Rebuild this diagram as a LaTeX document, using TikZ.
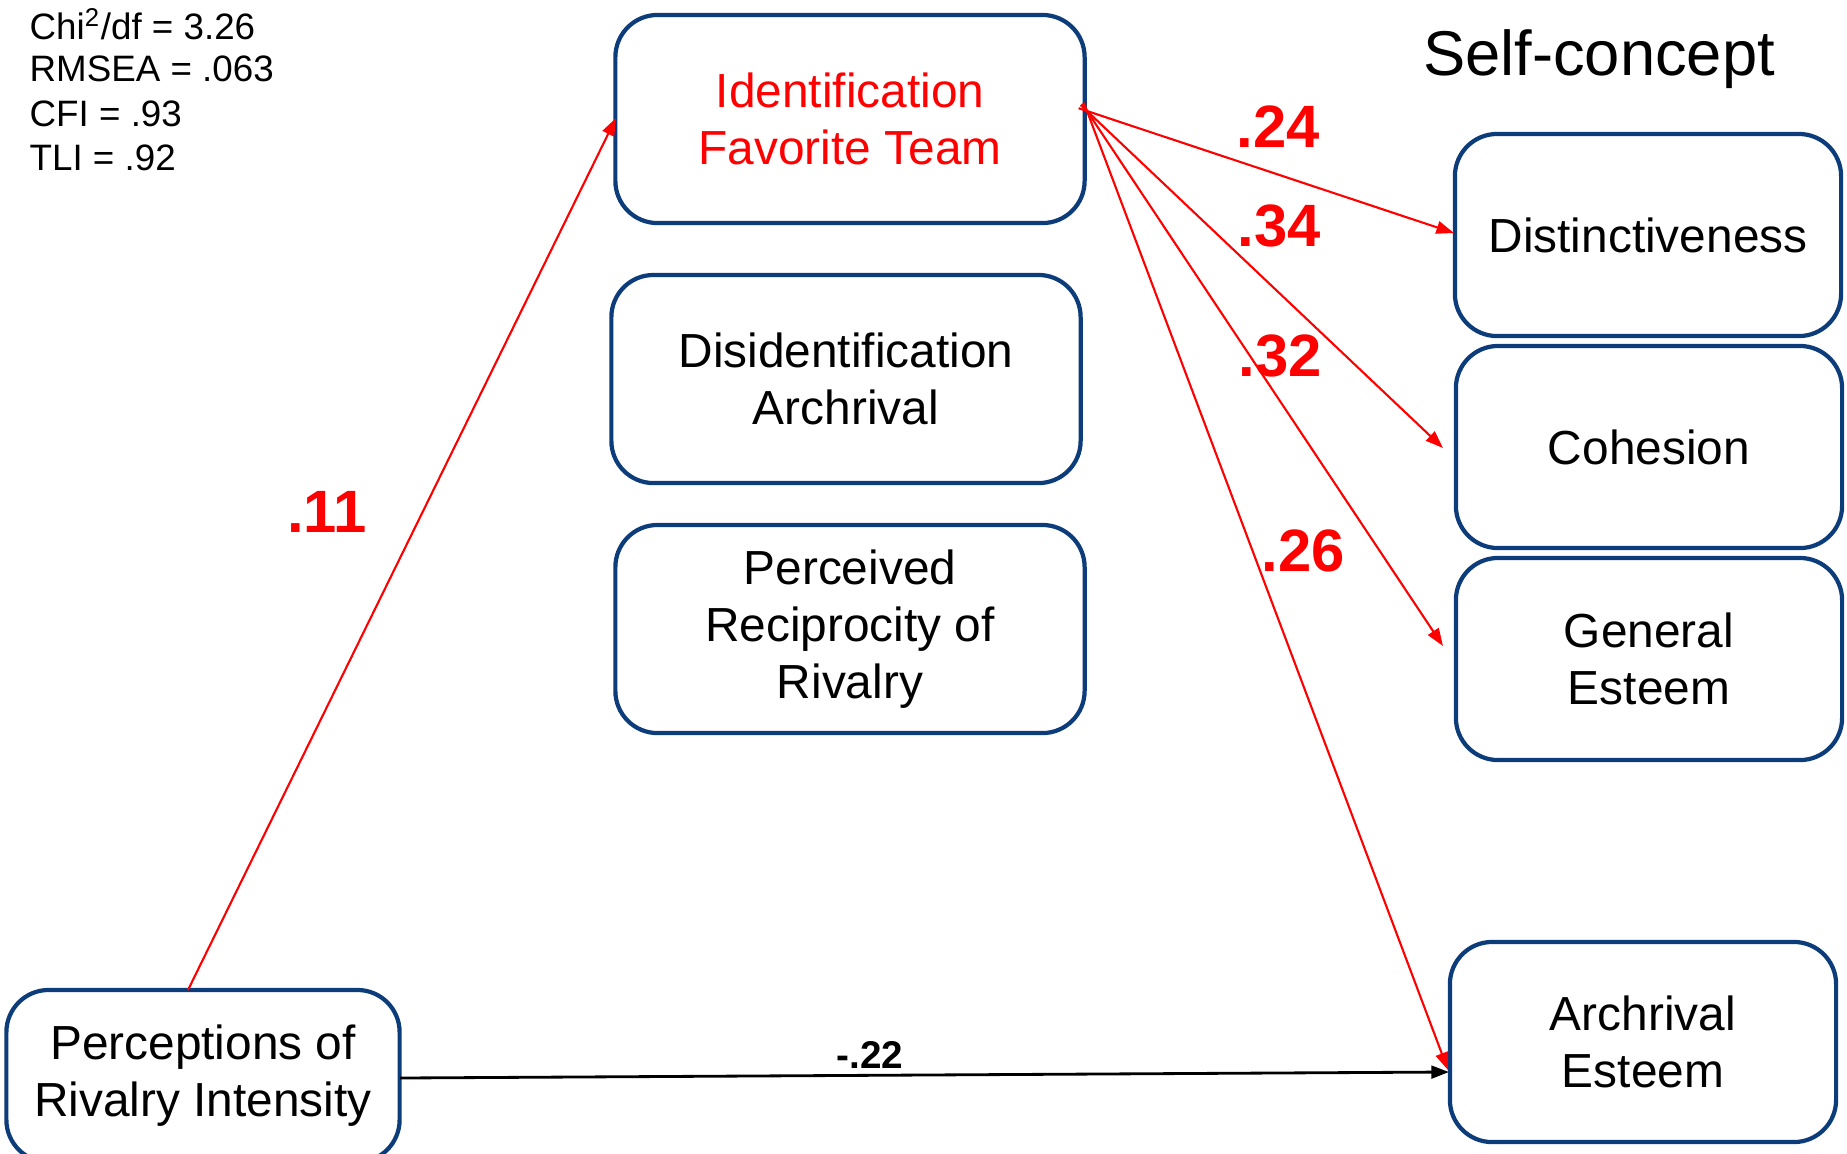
\documentclass[tikz,border=0pt]{standalone}
\usepackage{fontspec}
\setmainfont{Liberation Sans}
\usetikzlibrary{arrows.meta}
\definecolor{boxblue}{RGB}{12,60,122}
\definecolor{pathred}{RGB}{255,0,0}
\tikzset{
  var/.style={draw=boxblue, line width=1.2pt, rounded corners=12pt, fill=white,
    align=center, inner sep=0pt, font=\fontsize{13.6}{16.2}\selectfont},
  redpath/.style={draw=pathred, line width=0.6pt,
    -{Triangle[length=5pt,width=3.6pt]}, pathred},
  blackpath/.style={draw=black, line width=0.8pt,
    -{Triangle[length=5pt,width=3.6pt]}},
  coef/.style={text=pathred, font=\fontsize{17}{20}\selectfont\bfseries, inner sep=0pt},
  fitstat/.style={anchor=west, inner sep=0pt, font=\fontsize{10.45}{12}\selectfont}
}
\begin{document}
\begin{tikzpicture}[x=0.01cm, y=-0.01cm]
  \useasboundingbox (0,0) rectangle (1847,1153);
  \clip (0,0) rectangle (1847,1153);

  % fit indices
  \node[fitstat] (chi)   at (29,24)  {Chi\textsuperscript{2}/df = 3.26};
  \node[fitstat] (rmsea) at (29,69)  {RMSEA = .063};
  \node[fitstat] (cfi)   at (29,114) {CFI = .93};
  \node[fitstat] (tli)   at (29,158) {TLI = .92};

  \node[font=\fontsize{18}{22}\selectfont] (selfc) at (1599,59) {Self-concept};

  % predictor and mediators
  \node[var, minimum width=3.93cm, minimum height=1.72cm] (percep) at (203,1076)
    {Perceptions of\\Rivalry Intensity};
  \node[var, minimum width=4.69cm, minimum height=2.08cm, text=pathred] (ident) at (850,119)
    {Identification\\Favorite Team};
  \node[var, minimum width=4.69cm, minimum height=2.08cm] (disid) at (846,379)
    {Disidentification\\Archrival};
  \node[var, minimum width=4.69cm, minimum height=2.08cm] (recip) at (850,629)
    {Perceived\\Reciprocity of\\Rivalry};

  % self-concept outcomes
  \node[var, minimum width=3.86cm, minimum height=2.02cm] (dist) at (1648,235) {Distinctiveness};
  \node[var, minimum width=3.86cm, minimum height=2.02cm] (coh)  at (1649,447) {Cohesion};
  \node[var, minimum width=3.86cm, minimum height=2.02cm] (gen)  at (1649,659) {General\\Esteem};
  \node[var, minimum width=3.86cm, minimum height=2.00cm] (arch) at (1643,1042) {Archrival\\Esteem};

  % connector end points
  \coordinate (pTop)   at (188,990);
  \coordinate (iIn)    at (616,118);
  \coordinate (fan)    at (1087,111);
  \coordinate (distIn) at (1454,233);
  \coordinate (cohIn)  at (1443,448);
  \coordinate (genIn)  at (1443,646);
  \coordinate (archIn) at (1448,1070);
  \coordinate (pRight) at (400,1078);
  \coordinate (archL)  at (1449,1072);

  % paths
  \draw[redpath] (pTop) -- (iIn);
  \draw[redpath, shorten <=-2.5pt] (fan) -- (distIn);
  \draw[redpath, shorten <=-2.5pt] (fan) -- (cohIn);
  \draw[redpath, shorten <=-2.5pt] (fan) -- (genIn);
  \draw[redpath, shorten <=-2.5pt] (fan) -- (archIn);
  \draw[blackpath] (pRight) -- (archL);

  % coefficients
  \node[coef] (c11) at (327,512) {.11};
  \node[coef] (c24) at (1278,127) {.24};
  \node[coef] (c34) at (1279,226) {.34};
  \node[coef] (c32) at (1280,356) {.32};
  \node[coef] (c26) at (1303,551) {.26};
  \node[font=\fontsize{11}{13}\selectfont\bfseries, inner sep=0pt] (c22) at (870,1055) {-.22};
\end{tikzpicture}
\end{document}
